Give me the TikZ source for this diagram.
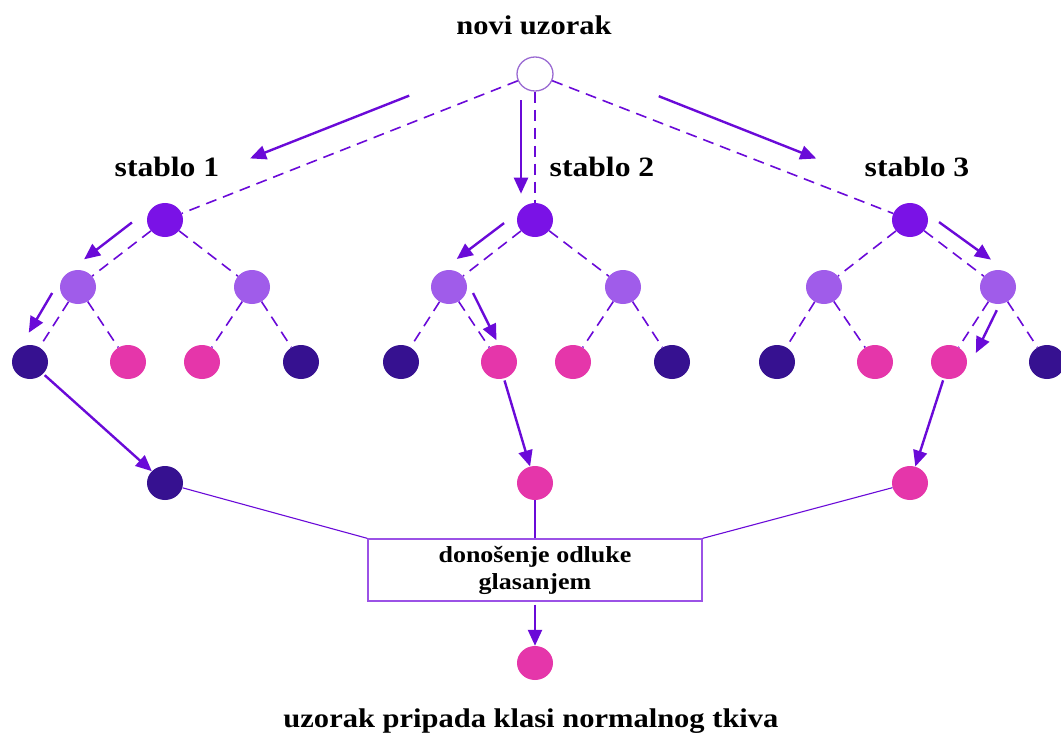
\documentclass[tikz,border=0pt]{standalone}
\usepackage{fontspec}
\setmainfont{Liberation Serif}[FakeStretch=1.13]
\usetikzlibrary{shapes.geometric,arrows.meta,calc}
\definecolor{violetc}{HTML}{7A12E6}
\definecolor{lilac}{HTML}{A05CEA}
\definecolor{indigoc}{HTML}{361190}
\definecolor{pinkc}{HTML}{E536AA}
\definecolor{arrowc}{HTML}{6A0AD8}
\definecolor{rimc}{HTML}{9A6AD2}
\definecolor{boxc}{HTML}{9B52E6}
\begin{document}
\begin{tikzpicture}[x=1pt,y=-1pt,
  dot/.style={ellipse,minimum width=36pt,minimum height=34pt,inner sep=0pt},
  dsh/.style={draw=arrowc,line width=1.6pt,dash pattern=on 11pt off 7pt},
  ln/.style={draw=arrowc,line width=1.1pt},
  ar/.style={draw=arrowc,line width=2.4pt,-{Triangle[length=16pt,width=14pt]}},
  ttl/.style={font=\bfseries\fontsize{27}{32}\selectfont,anchor=base},
  tree/.style={font=\bfseries\fontsize{28}{32}\selectfont,anchor=base}]
\path[use as bounding box,clip] (0,0) rectangle (1061,733);
\node[ttl] (title) at (534,35) {novi uzorak};
\node[dot,draw=rimc,line width=1.3pt,fill=white] (n0) at (535,74) {};
\node[tree] (s1) at (167,177) {stablo 1};
\node[tree] (s2) at (602,177) {stablo 2};
\node[tree] (s3) at (917,177) {stablo 3};
\node[dot,fill=violetc] (t1) at (165,220) {};
\node[dot,fill=violetc] (t2) at (535,220) {};
\node[dot,fill=violetc] (t3) at (910,220) {};
\node[dot,fill=lilac] (t1l) at (78,287) {};
\node[dot,fill=lilac] (t1r) at (252,287) {};
\node[dot,fill=lilac] (t2l) at (449,287) {};
\node[dot,fill=lilac] (t2r) at (623,287) {};
\node[dot,fill=lilac] (t3l) at (824,287) {};
\node[dot,fill=lilac] (t3r) at (998,287) {};
\node[dot,fill=indigoc] (t1ll) at (30,362) {};
\node[dot,fill=pinkc] (t1lr) at (128,362) {};
\node[dot,fill=pinkc] (t1rl) at (202,362) {};
\node[dot,fill=indigoc] (t1rr) at (301,362) {};
\node[dot,fill=indigoc] (t2ll) at (401,362) {};
\node[dot,fill=pinkc] (t2lr) at (499,362) {};
\node[dot,fill=pinkc] (t2rl) at (573,362) {};
\node[dot,fill=indigoc] (t2rr) at (672,362) {};
\node[dot,fill=indigoc] (t3ll) at (777,362) {};
\node[dot,fill=pinkc] (t3lr) at (875,362) {};
\node[dot,fill=pinkc] (t3rl) at (949,362) {};
\node[dot,fill=indigoc] (t3rr) at (1047,362) {};
\node[dot,fill=indigoc] (r1) at (165,483) {};
\node[dot,fill=pinkc] (r2) at (535,483) {};
\node[dot,fill=pinkc] (r3) at (910,483) {};
\node[draw=boxc,line width=1.3pt,minimum width=334pt,minimum height=62pt,
  align=center,font=\bfseries\fontsize{23}{27}\selectfont] (vote) at (535,570)
  {donošenje odluke\\glasanjem};
\node[dot,fill=pinkc] (out) at (535,663) {};
\node[ttl] (res) at (531,727) {uzorak pripada klasi normalnog tkiva};
\draw[dsh] (n0) -- (t1);
\draw[dsh] (n0) -- (t2);
\draw[dsh] (n0) -- (t3);
\draw[dsh] (t1) -- (t1l);
\draw[dsh] (t1) -- (t1r);
\draw[dsh] (t1l) -- (t1ll);
\draw[dsh] (t1l) -- (t1lr);
\draw[dsh] (t1r) -- (t1rl);
\draw[dsh] (t1r) -- (t1rr);
\draw[dsh] (t2) -- (t2l);
\draw[dsh] (t2) -- (t2r);
\draw[dsh] (t2l) -- (t2ll);
\draw[dsh] (t2l) -- (t2lr);
\draw[dsh] (t2r) -- (t2rl);
\draw[dsh] (t2r) -- (t2rr);
\draw[dsh] (t3) -- (t3l);
\draw[dsh] (t3) -- (t3r);
\draw[dsh] (t3l) -- (t3ll);
\draw[dsh] (t3l) -- (t3lr);
\draw[dsh] (t3r) -- (t3rl);
\draw[dsh] (t3r) -- (t3rr);
\draw[ar] ($(n0)!0.34!(t1)+(0,-28)$) -- ($(n0)!0.77!(t1)+(0,-28)$);
\draw[ar] ($(n0)!0.18!(t2)+(-14,0)$) -- ($(n0)!0.82!(t2)+(-14,0)$);
\draw[ar] ($(n0)!0.33!(t3)+(0,-26)$) -- ($(n0)!0.75!(t3)+(0,-25)$);
\draw[ar] ($(t1)!0.38!(t1l)+(0,-23)$) -- ($(t1)!0.93!(t1l)+(0,-23)$);
\draw[ar] ($(t1l)!0.08!(t1ll)+(-22,0)$) -- ($(t1l)!0.61!(t1ll)+(-20,0)$);
\draw[ar,shorten <=2pt] (t1ll) -- (r1);
\draw[ar] ($(t2)!0.36!(t2l)+(0,-21)$) -- ($(t2)!0.91!(t2l)+(0,-22)$);
\draw[ar] ($(t2l)!0.08!(t2lr)+(20,0)$) -- ($(t2l)!0.71!(t2lr)+(12,0)$);
\draw[ar,shorten <=2pt] (t2lr) -- (r2);
\draw[ar] ($(t3)!0.33!(t3r)+(0,-20)$) -- ($(t3)!0.92!(t3r)+(0,-22)$);
\draw[ar] ($(t3r)!0.31!(t3rl)+(14,0)$) -- ($(t3r)!0.88!(t3rl)+(21,0)$);
\draw[ar,shorten <=2pt] (t3rl) -- (r3);
\draw[ln] (r1) -- (vote.north west);
\draw[ln] (r2) -- (vote.north);
\draw[ln] (r3) -- (vote.north east);
\draw[ar,shorten <=3pt] (vote) -- (out);
\end{tikzpicture}
\end{document}
